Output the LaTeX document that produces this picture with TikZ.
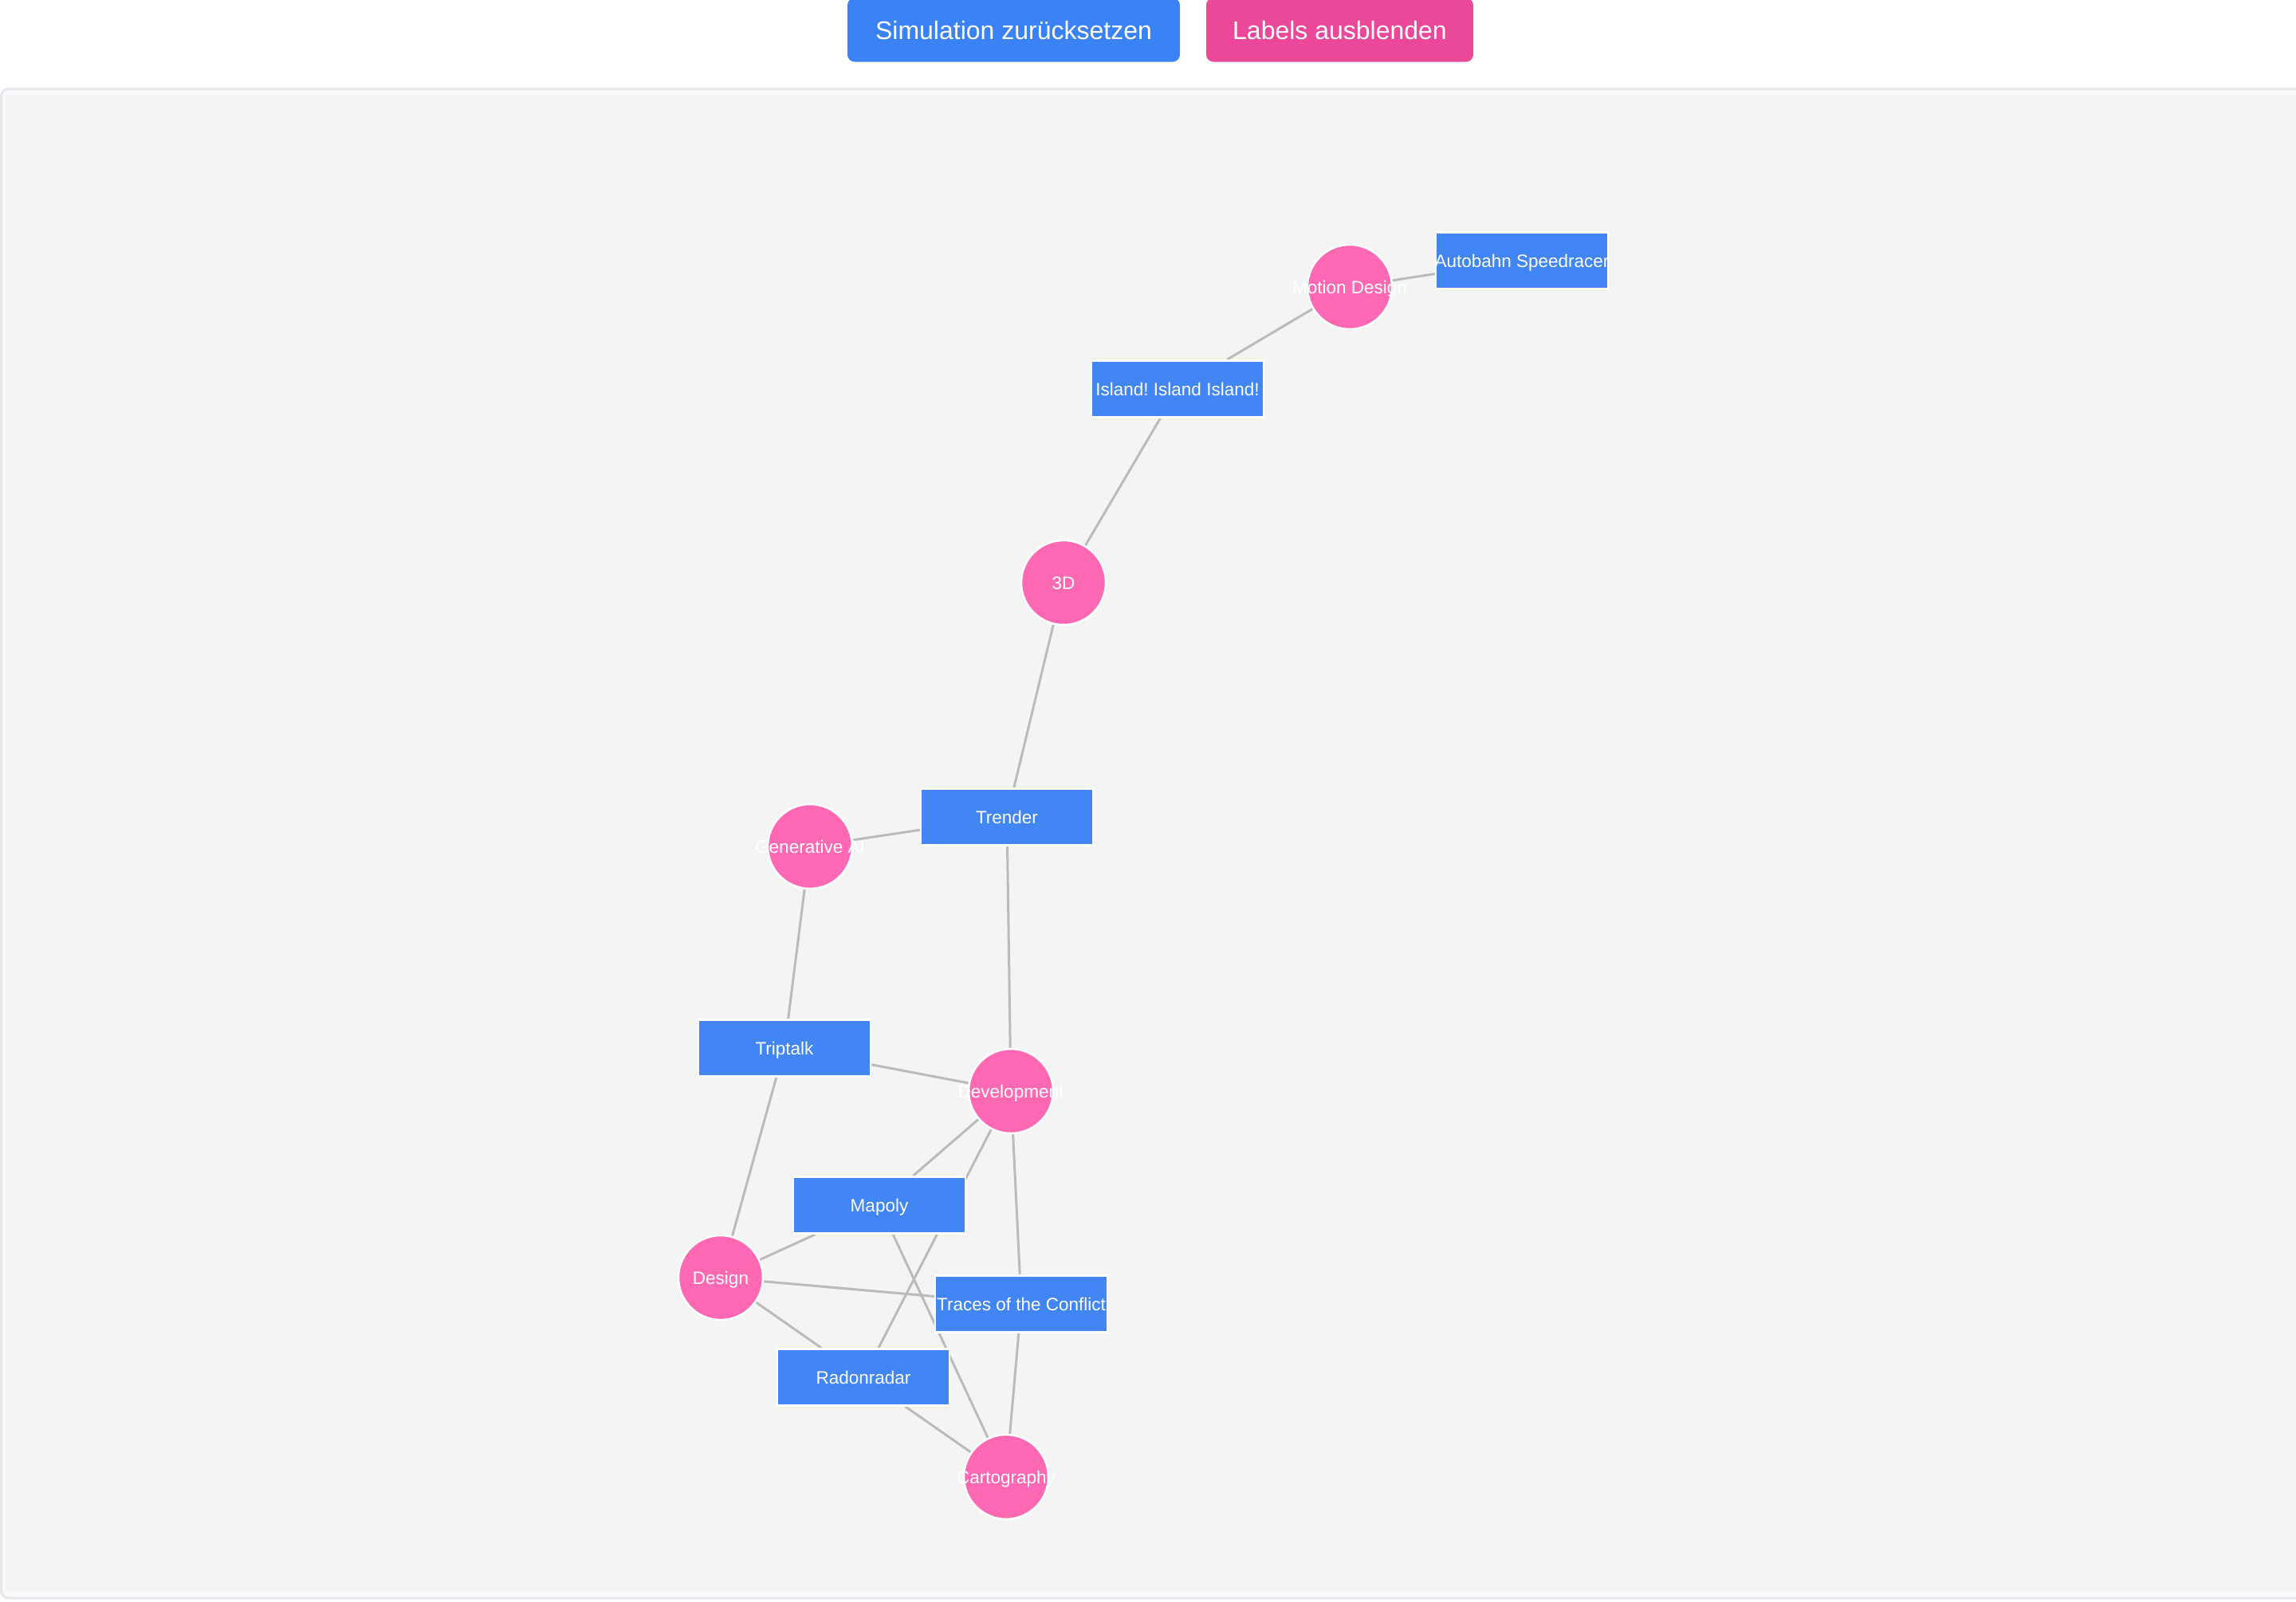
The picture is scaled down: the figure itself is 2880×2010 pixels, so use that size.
\documentclass[tikz,border=0pt]{standalone}
\usepackage{fontspec}
\setmainfont{Liberation Sans}
\usetikzlibrary{backgrounds}
\definecolor{projblue}{HTML}{4285F4}
\definecolor{topicpink}{HTML}{FF69B4}
\definecolor{linkgray}{HTML}{BBBBBB}
\definecolor{btnblue}{HTML}{3B82F6}
\definecolor{btnpink}{HTML}{EC4899}
\definecolor{panelbg}{HTML}{F4F4F4}
\definecolor{panelband}{HTML}{F8F9FB}
\definecolor{panelline}{HTML}{E5E7EB}
\newcommand{\tagtext}[1]{\makebox[0pt]{#1}}
\frenchspacing

\begin{document}
\begin{tikzpicture}[
    x=1pt, y=-1pt,
    every node/.style={font=\fontsize{22.5}{27}\selectfont, text=white},
    project/.style={rectangle, fill=projblue, draw=white, line width=2.5pt, minimum width=216pt, minimum height=71pt, inner sep=0pt, text height=16pt, text depth=0pt},
    topic/.style={circle, fill=topicpink, draw=white, line width=2.5pt, minimum size=106pt, inner sep=0pt, text height=16pt, text depth=0pt},
    link/.style={linkgray, line width=3pt},
    button/.style={rectangle, rounded corners=9pt, minimum height=80pt, inner sep=0pt, font=\fontsize{32}{38}\selectfont, text height=23pt, text depth=0pt}
  ]
  \useasboundingbox (0,0) rectangle (2880,2010);

  % buttons
  \node[button, fill=btnblue, minimum width=417pt] (reset) at (1271.5,37.5) {Simulation zurücksetzen};
  \node[button, fill=btnpink, minimum width=335pt] (hidelabels) at (1680.5,37.5) {Labels ausblenden};

  % graph nodes
  \node[project] (autobahn) at (1909,327) {\tagtext{Autobahn Speedracer}};
  \node[topic] (motion) at (1693,360) {\tagtext{Motion Design}};
  \node[project] (island) at (1477,488) {\tagtext{Island! Island Island!}};
  \node[topic] (threed) at (1334,731) {\tagtext{3D}};
  \node[project] (trender) at (1263,1025) {\tagtext{Trender}};
  \node[topic] (genai) at (1016,1062) {\tagtext{Generative AI}};
  \node[project] (triptalk) at (984,1315) {\tagtext{Triptalk}};
  \node[topic] (develop) at (1268,1369) {\tagtext{Development}};
  \node[project] (mapoly) at (1103,1512) {\tagtext{Mapoly}};
  \node[topic] (design) at (904,1603) {\tagtext{Design}};
  \node[project] (traces) at (1281,1636) {\tagtext{Traces of the Conflict}};
  \node[project] (radon) at (1083,1728) {\tagtext{Radonradar}};
  \node[topic] (carto) at (1262,1853) {\tagtext{Cartography}};

  \begin{scope}[on background layer]
    % page and panel
    \fill[white] (0,0) rectangle (2880,2010);
    \draw[panelline, line width=3pt, fill=panelband, rounded corners=9pt] (1.5,111.5) rectangle (2920,2005);
    \fill[panelbg] (7,119) rectangle (2920,1996);

    % links
    \draw[link] (motion) -- (autobahn);
    \draw[link] (motion) -- (island);
    \draw[link] (island) -- (threed);
    \draw[link] (threed) -- (trender);
    \draw[link] (trender) -- (genai);
    \draw[link] (trender) -- (develop);
    \draw[link] (genai) -- (triptalk);
    \draw[link] (triptalk) -- (develop);
    \draw[link] (triptalk) -- (design);
    \draw[link] (develop) -- (mapoly);
    \draw[link] (develop.center) -- (radon.center);
    \draw[link] (develop) -- (traces);
    \draw[link] (design) -- (mapoly);
    \draw[link] (design) -- (traces);
    \draw[link] (design) -- (radon);
    \draw[link] (mapoly.center) -- (carto.center);
    \draw[link] (traces) -- (carto);
    \draw[link] (radon) -- (carto);
  \end{scope}
\end{tikzpicture}
\end{document}
